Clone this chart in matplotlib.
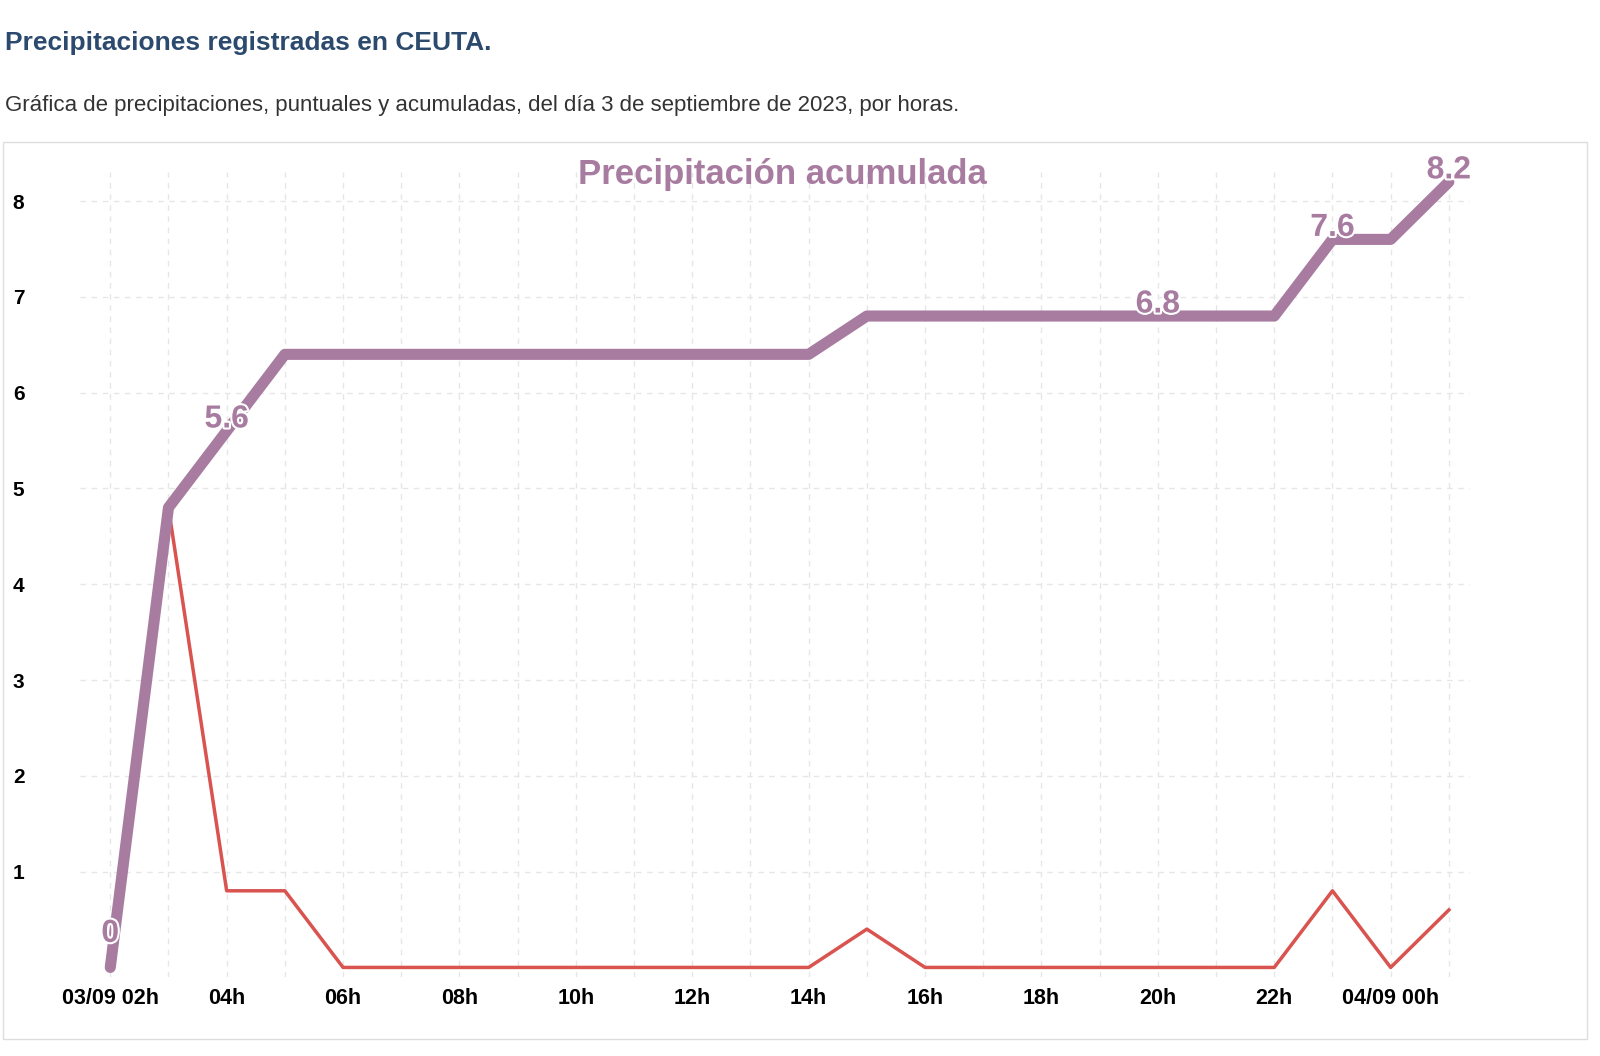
import matplotlib
matplotlib.use("Agg")
from matplotlib import pyplot as plt
from matplotlib import patheffects as pe
from matplotlib.patches import Rectangle

hours = ['02h', '03h', '04h', '05h', '06h', '07h', '08h', '09h', '10h', '11h', '12h', '13h',
         '14h', '15h', '16h', '17h', '18h', '19h', '20h', '21h', '22h', '23h', '00h', '01h']
hourly = [0, 4.8, 0.8, 0.8, 0, 0, 0, 0, 0, 0, 0, 0, 0, 0.4, 0, 0, 0, 0, 0, 0, 0, 0.8, 0, 0.6]
accum = [0, 4.8, 5.6, 6.4, 6.4, 6.4, 6.4, 6.4, 6.4, 6.4, 6.4, 6.4, 6.4, 6.8, 6.8, 6.8,
         6.8, 6.8, 6.8, 6.8, 6.8, 7.6, 7.6, 8.2]
labelled = [0, 2, 18, 21, 23]
tick_labels = ['03/09 02h', '04h', '06h', '08h', '10h', '12h', '14h', '16h', '18h', '20h',
               '22h', '04/09 00h']

purple = '#a87ca0'
red = '#d9534f'

fig = plt.figure(figsize=(16, 10.56), dpi=100)
fig.text(0.003, 0.953, 'Precipitaciones registradas en CEUTA.', fontsize=19,
         fontweight='bold', color='#2c4a6e', family='Liberation Sans')
fig.text(0.003, 0.895, 'Gráfica de precipitaciones, puntuales y acumuladas, del día 3 de '
         'septiembre de 2023, por horas.', fontsize=16, color='#333333', family='Liberation Sans')
fig.patches.append(Rectangle((0.002, 0.016), 0.99, 0.85, transform=fig.transFigure,
                             fill=False, edgecolor='#dddddd', lw=1))

ax = fig.add_axes([0.05, 0.0748, 0.869, 0.762])
x = list(range(len(hours)))
ax.plot(x, hourly, color=red, lw=2.5, zorder=2)
ax.plot(x, accum, color=purple, lw=8, solid_capstyle='round', zorder=3)
for i in labelled:
    txt = '0' if accum[i] == 0 else str(accum[i])
    ax.text(x[i], accum[i] + (0.35 if i == 0 else 0.12), txt,
            ha='center', va='center', fontsize=23, fontweight='bold',
            color=purple, family='Liberation Sans', zorder=4,
            path_effects=[pe.withStroke(linewidth=3, foreground='white')])

ax.set_xlim(-0.52, 23.37)
ax.set_ylim(-0.1, 8.3)
ax.set_xticks(x, minor=True)
ax.set_xticks(x[::2])
ax.set_xticklabels(tick_labels, fontsize=15.5, fontweight='bold', family='Liberation Sans')
ax.set_yticks(range(1, 9))
ax.set_yticklabels([str(v) for v in range(1, 9)], fontsize=15, fontweight='bold',
                   family='Liberation Sans')
ax.tick_params(length=0, which='both', pad=8)
ax.tick_params(axis='y', pad=40)
ax.grid(True, which='both', axis='x', color='#e6e6e6', ls=(0, (4, 4)), lw=1)
ax.grid(True, axis='y', color='#e6e6e6', ls=(0, (4, 4)), lw=1)
for s in ax.spines.values():
    s.set_visible(False)
ax.set_title('Precipitación acumulada', fontsize=25, fontweight='bold', color=purple,
             family='Liberation Sans', x=0.505, y=0.975)

fig.savefig('out.png')
